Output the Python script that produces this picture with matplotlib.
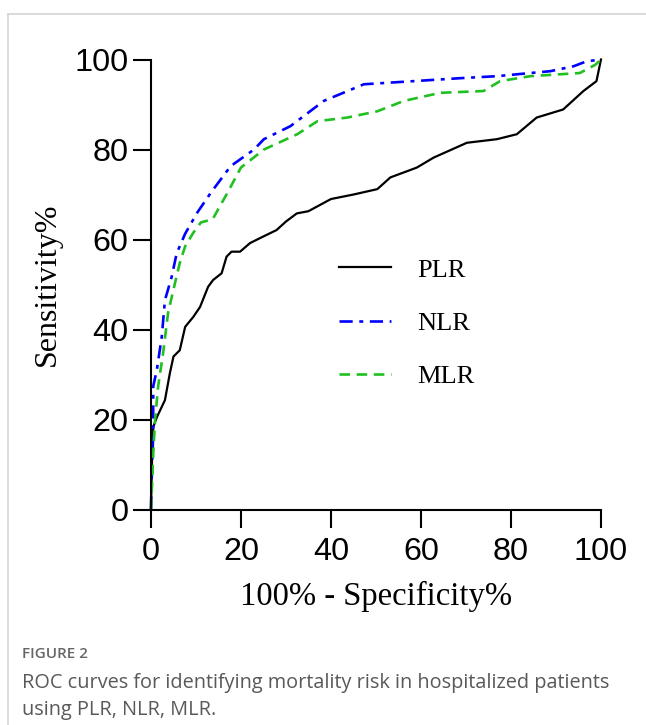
"""
ROC curves for PLR, NLR and MLR (mortality risk in hospitalized patients)
"""
import matplotlib
matplotlib.use('Agg')
import matplotlib.pyplot as plt
from matplotlib.lines import Line2D

# values (100% - specificity, sensitivity)
plr_x = [0, 0.2, 0.5, 1.3, 3.1, 4.2, 5.0, 6.4, 7.6, 9.4, 10.9, 12.7, 13.8, 15.7, 16.8, 17.9,
         19.8, 22.0, 24.2, 27.9, 30.0, 32.4, 35.0, 40.0, 45.0, 50.3, 53.2, 59.1, 62.8, 70.2,
         76.9, 81.3, 85.7, 91.6, 96.1, 99.0, 100]
plr_y = [0, 10, 18.3, 20.5, 24.3, 30.3, 34.0, 35.4, 40.6, 42.8, 45.0, 49.5, 51.0, 52.5, 56.2, 57.3,
         57.3, 59.2, 60.3, 62.1, 64.0, 65.8, 66.3, 69.0, 70.0, 71.2, 73.8, 76.0, 78.2, 81.5,
         82.3, 83.4, 87.1, 88.9, 93.0, 95.2, 100]

nlr_x = [0, 0.1, 0.5, 0.5, 1.3, 2.4, 3.1, 4.6, 5.7, 7.6, 10.3, 13.3, 17.7, 22.9, 25.1, 31.0,
         38.4, 47.3, 58.4, 69.5, 76.9, 84.3, 88.7, 93.9, 96.8, 100]
nlr_y = [0, 5, 17, 27.4, 31.0, 38.4, 46.5, 51.7, 56.9, 61.3, 66.0, 70.4, 76.3, 80.0, 82.3, 85.2,
         90.8, 94.5, 95.2, 95.9, 96.3, 97.0, 97.4, 98.5, 99.6, 100]

mlr_x = [0, 0.1, 0.5, 0.9, 1.6, 2.7, 3.8, 5.0, 6.4, 7.6, 9.4, 11.1, 13.7, 17.0, 20.0, 25.1,
         32.5, 37.0, 43.6, 50.3, 56.2, 64.3, 73.9, 77.6, 84.3, 95.3, 98.7, 100]
mlr_y = [0, 2, 12.4, 19.8, 27.4, 34.8, 43.7, 48.9, 54.8, 58.5, 61.5, 63.8, 64.5, 70.4, 76.0, 80.0,
         83.4, 86.3, 87.1, 88.5, 90.8, 92.6, 93.0, 95.2, 96.3, 97.0, 98.8, 100]

ticks = [0, 20, 40, 60, 80, 100]

fig = plt.figure(figsize=(6.46, 7.25), dpi=100)
ax = fig.add_axes([0.2337, 0.2972, 0.6966, 0.6207])

ax.plot(plr_x, plr_y, color='black', lw=1.6, label='PLR', clip_on=False)
ax.plot(nlr_x, nlr_y, color='#0000ff', lw=1.9, dashes=(5, 2.5, 1.5, 2.5), label='NLR', clip_on=False)
ax.plot(mlr_x, mlr_y, color='#1fc01f', lw=1.9, dashes=(4, 2.5), label='MLR', clip_on=False)

ax.set_xlim(0, 100)
ax.set_ylim(0, 100)
ax.set_xticks(ticks)
ax.set_yticks(ticks)
for s in ['top', 'right']:
    ax.spines[s].set_visible(False)
for s in ['left', 'bottom']:
    ax.spines[s].set_linewidth(1.5)
ax.tick_params(direction='out', length=13, width=1.5, labelsize=23.3)
ax.tick_params(axis='x', pad=7)
ax.tick_params(axis='y', pad=3)
for lab in ax.get_xticklabels() + ax.get_yticklabels():
    lab.set_fontfamily('Liberation Sans')

ax.set_xlabel('100% - Specificity%', fontfamily='Liberation Serif', fontsize=23.5, labelpad=10)
ax.set_ylabel('Sensitivity%', fontfamily='Liberation Serif', fontsize=23, labelpad=9)

leg = ax.legend(loc='center left', bbox_to_anchor=(0.418, 0.414), frameon=False,
                prop={'family': 'Liberation Serif', 'size': 19}, handlelength=1.95,
                handletextpad=1.0, labelspacing=1.13, borderpad=0, borderaxespad=0)

# page frame lines (top and left)
fig.add_artist(Line2D([8/646, 1], [1 - 14/725, 1 - 14/725], color='#d4d4d4', lw=1.2))
fig.add_artist(Line2D([8/646, 8/646], [0, 1 - 14/725], color='#d4d4d4', lw=1.2))

# caption
fig.text(22/646, 1 - 654/725, 'FIGURE 2', fontfamily='Open Sans', fontsize=11,
         color='#666666', va='center', fontweight='semibold')
fig.text(22/646, 1 - 683/725, 'ROC curves for identifying mortality risk in hospitalized patients',
         fontfamily='Open Sans', fontsize=14.3, color='#595959', va='center')
fig.text(22/646, 1 - 710/725, 'using PLR, NLR, MLR.',
         fontfamily='Open Sans', fontsize=14.3, color='#595959', va='center')

fig.savefig('out.png', dpi=100)
